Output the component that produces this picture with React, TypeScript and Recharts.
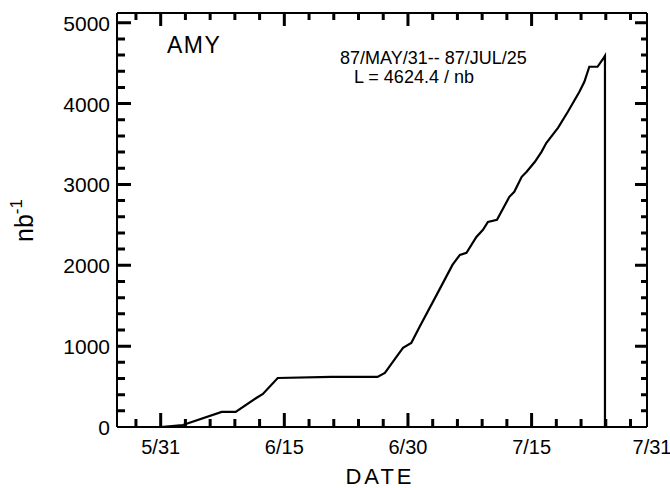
import React from 'react';
import { LineChart, Line, XAxis, YAxis, ReferenceLine } from 'recharts';

// days counted from 5/31, integrated luminosity in nb^-1
const days = [
  0, 2.7, 7.4, 9.1, 11.6, 12.4, 14.2, 20.7, 26.3, 27.2, 28.6, 29.4, 30.4, 31.4,
  33.8, 35.4, 36.3, 37.1, 38.3, 39.1, 39.7, 40.8, 42.3, 42.9, 43.8, 44.4, 45.4,
  46.2, 46.8, 48.2, 49.4, 50.8, 51.4, 52.0, 53.0, 53.6, 53.9, 53.9,
];
const lumi = [
  0, 25, 186, 186, 359, 408, 606, 619, 619, 668, 866, 978, 1040, 1238,
  1696, 2005, 2129, 2153, 2351, 2438, 2537, 2562, 2847, 2908, 3094, 3156, 3280,
  3403, 3515, 3700, 3898, 4146, 4270, 4455, 4455, 4542, 4590, 0,
];

const xTickDays = [-3, 0, 3, 6, 9, 12, 15, 18, 21, 24, 27, 30, 33, 36, 39, 42, 45, 48, 51, 54, 57];
const xLabelDays = [0, 15, 30, 45, 59];
const xLabels = ['5/31', '6/15', '6/30', '7/15', '7/31'];

const yTickValues = [
  200, 400, 600, 800, 1000, 1200, 1400, 1600, 1800, 2000, 2200, 2400, 2600,
  2800, 3000, 3200, 3400, 3600, 3800, 4000, 4200, 4400, 4600, 4800, 5000,
];
const yLabels = [0, 1000, 2000, 3000, 4000, 5000];

const data = days.map((d, i) => ({ day: d, lumi: lumi[i] }));

const FONT = '"Liberation Sans", Arial, sans-serif';
const X_MIN = -5.3;
const X_MAX = 59;
const Y_MAX = 5120;
// rough scale of the plot, used to turn tick lengths in px into axis units
const PX_PER_DAY = 8.244;
const PX_PER_NB = 0.0808;

type Pt = { day: number; v: number | null };

// all inward tick marks of the frame as one broken line
const tickRows: Pt[] = [];
xTickDays.forEach((d) => {
  const major = xLabelDays.includes(d);
  const lb = (major ? 14 : 8) / PX_PER_NB;
  const lt = (major ? 13 : 7) / PX_PER_NB;
  tickRows.push({ day: d, v: 0 }, { day: d, v: lb }, { day: d, v: null });
  tickRows.push({ day: d, v: Y_MAX }, { day: d, v: Y_MAX - lt }, { day: d, v: null });
});
yTickValues.forEach((y) => {
  const major = yLabels.includes(y);
  const ll = (major ? 14 : 8) / PX_PER_DAY;
  const lr = (major ? 12 : 6) / PX_PER_DAY;
  tickRows.push({ day: X_MIN, v: y }, { day: X_MIN + ll, v: y }, { day: X_MIN + ll, v: null });
  tickRows.push({ day: X_MAX, v: y }, { day: X_MAX - lr, v: y }, { day: X_MAX - lr, v: null });
});

const BottomLabel = (props: any) => {
  const { x, y, payload } = props;
  const idx = xLabelDays.indexOf(payload.value);
  if (idx < 0) return <g />;
  const shift = payload.value === X_MAX ? 5 : 0;
  return (
    <text x={x + shift} y={y + 27} textAnchor="middle" fontSize={20} fontFamily={FONT} fill="#000">
      {xLabels[idx]}
    </text>
  );
};

const LeftLabel = (props: any) => {
  const { x, y, payload } = props;
  return (
    <text x={x - 7} y={y + 8} textAnchor="end" fontSize={21} fontFamily={FONT} fill="#000">
      {payload.value}
    </text>
  );
};

const frame = { stroke: '#000', strokeWidth: 2 };

export default function App() {
  return (
    <div style={{ position: 'absolute', left: 0, top: 0, width: 670, height: 488, background: '#fff' }}>
      <LineChart width={670} height={488} data={data} margin={{ top: 13, right: 23, bottom: 21, left: 57 }}>
        <XAxis
          xAxisId="b"
          type="number"
          dataKey="day"
          domain={[X_MIN, X_MAX]}
          ticks={xLabelDays}
          interval={0}
          tickSize={0}
          tickMargin={0}
          tickLine={false}
          axisLine={frame}
          tick={<BottomLabel />}
          height={40}
        />
        <YAxis
          yAxisId="l"
          type="number"
          domain={[0, Y_MAX]}
          ticks={yLabels}
          interval={0}
          tickSize={0}
          tickMargin={0}
          tickLine={false}
          axisLine={frame}
          tick={<LeftLabel />}
          width={60}
        />
        <ReferenceLine xAxisId="b" yAxisId="l" y={Y_MAX} stroke="#000" strokeWidth={2} ifOverflow="visible" />
        <ReferenceLine xAxisId="b" yAxisId="l" x={X_MAX} stroke="#000" strokeWidth={2} ifOverflow="visible" />
        <Line
          xAxisId="b"
          yAxisId="l"
          data={tickRows}
          dataKey="v"
          stroke="#000"
          strokeWidth={3}
          dot={false}
          isAnimationActive={false}
        />
        <Line
          xAxisId="b"
          yAxisId="l"
          type="linear"
          dataKey="lumi"
          stroke="#000"
          strokeWidth={2.2}
          dot={false}
          isAnimationActive={false}
        />
      </LineChart>
      <svg width={670} height={488} style={{ position: 'absolute', left: 0, top: 0, pointerEvents: 'none' }}>
        <g fontFamily={FONT} fill="#000">
          <text x={167} y={53} fontSize={23} letterSpacing={1.5}>AMY</text>
          <text x={340} y={64} fontSize={18}>87/MAY/31-- 87/JUL/25</text>
          <text x={354} y={83} fontSize={18}>L = 4624.4 / nb</text>
          <text x={380} y={484} fontSize={22} textAnchor="middle" letterSpacing={3}>DATE</text>
          <text transform="translate(33,242) rotate(-90)" fontSize={25}>
            nb<tspan fontSize={17} dy={-11}>-1</tspan>
          </text>
        </g>
      </svg>
    </div>
  );
}
